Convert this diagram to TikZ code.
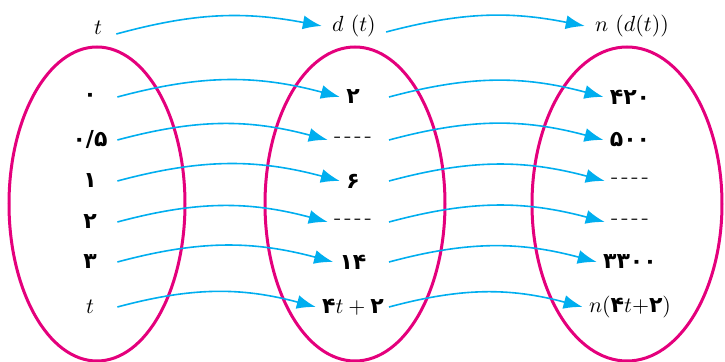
\documentclass[tikz,border=0pt]{standalone}
\usepackage{amsmath}
\usepackage{fontspec}
\usetikzlibrary{arrows.meta,positioning}
\newfontfamily\fa[Script=Arabic]{DejaVu Sans}
\definecolor{setpink}{HTML}{E4007C}
\definecolor{mapblue}{HTML}{00AEEF}
\tikzset{
  val/.style={inner sep=3pt, font=\fontsize{11}{13}\selectfont},
  valw/.style={val, minimum width=27pt},
  hd/.style={inner sep=5pt, font=\fontsize{11}{13}\selectfont},
  ar/.style={-{Latex[length=9.5pt,width=7pt]}, line width=.8pt, draw=mapblue, bend left=15},
  oval/.style={draw=setpink, line width=1.5pt},
}
\newcommand{\dsh}{-\kern1.5pt-\kern1.5pt-\kern1.5pt-}
\newcommand{\fn}[1]{\text{\fa\bfseries #1}}

\begin{document}
\begin{tikzpicture}[x=0.5pt,y=-0.5pt]
  \useasboundingbox (0,0) rectangle (725,362);
  % conjuntos
  \draw[oval] (97,204) ellipse (88 and 157);
  \draw[oval] (355,204) ellipse (90 and 157);
  \draw[oval] (627,204) ellipse (95 and 157);

  % encabezados
  \node[hd] (hl) at (98,28) {$t$};
  \node[hd] (hm) at (354,26) {$d\ (t)$};
  \node[hd] (hr) at (632,26) {$n\ (d(t))$};
  \draw[ar, bend left=13] ([xshift=2pt,yshift=-3pt]hl.east) to (hm.west);
  \draw[ar, bend left=13] ([yshift=-3pt]hm.east) to (hr.west);

  % valores
  \foreach \i/\y/\a/\b/\c in {0/97/{\fa\bfseries ۰}/{\fa\bfseries ۲}/{\fa\bfseries ۴۲۰},
      1/140/{\fa\bfseries ۰/۵}/\dsh/{\fa\bfseries ۵۰۰},
      2/181/{\fa\bfseries ۱}/{\fa\bfseries ۶}/\dsh,
      3/222/{\fa\bfseries ۲}/\dsh/\dsh,
      4/262/{\fa\bfseries ۳}/{\fa\bfseries ۱۴}/{\fa\bfseries ۳۳۰۰},
      5/307/$t$/$\fn{۴}t+\fn{۲}$/$n(\fn{۴}t{+}\fn{۲})$}{
    \node[valw] (l\i) at (90,\y) {\a};
    \node[val] (m\i) at (353,\y) {\b};
    \node[val] (r\i) at (630,\y) {\c};
    \draw[ar] (l\i.east) to (m\i.west);
    \draw[ar] ([xshift=18pt]m\i.center) to (r\i.west);
  }
\end{tikzpicture}
\end{document}
